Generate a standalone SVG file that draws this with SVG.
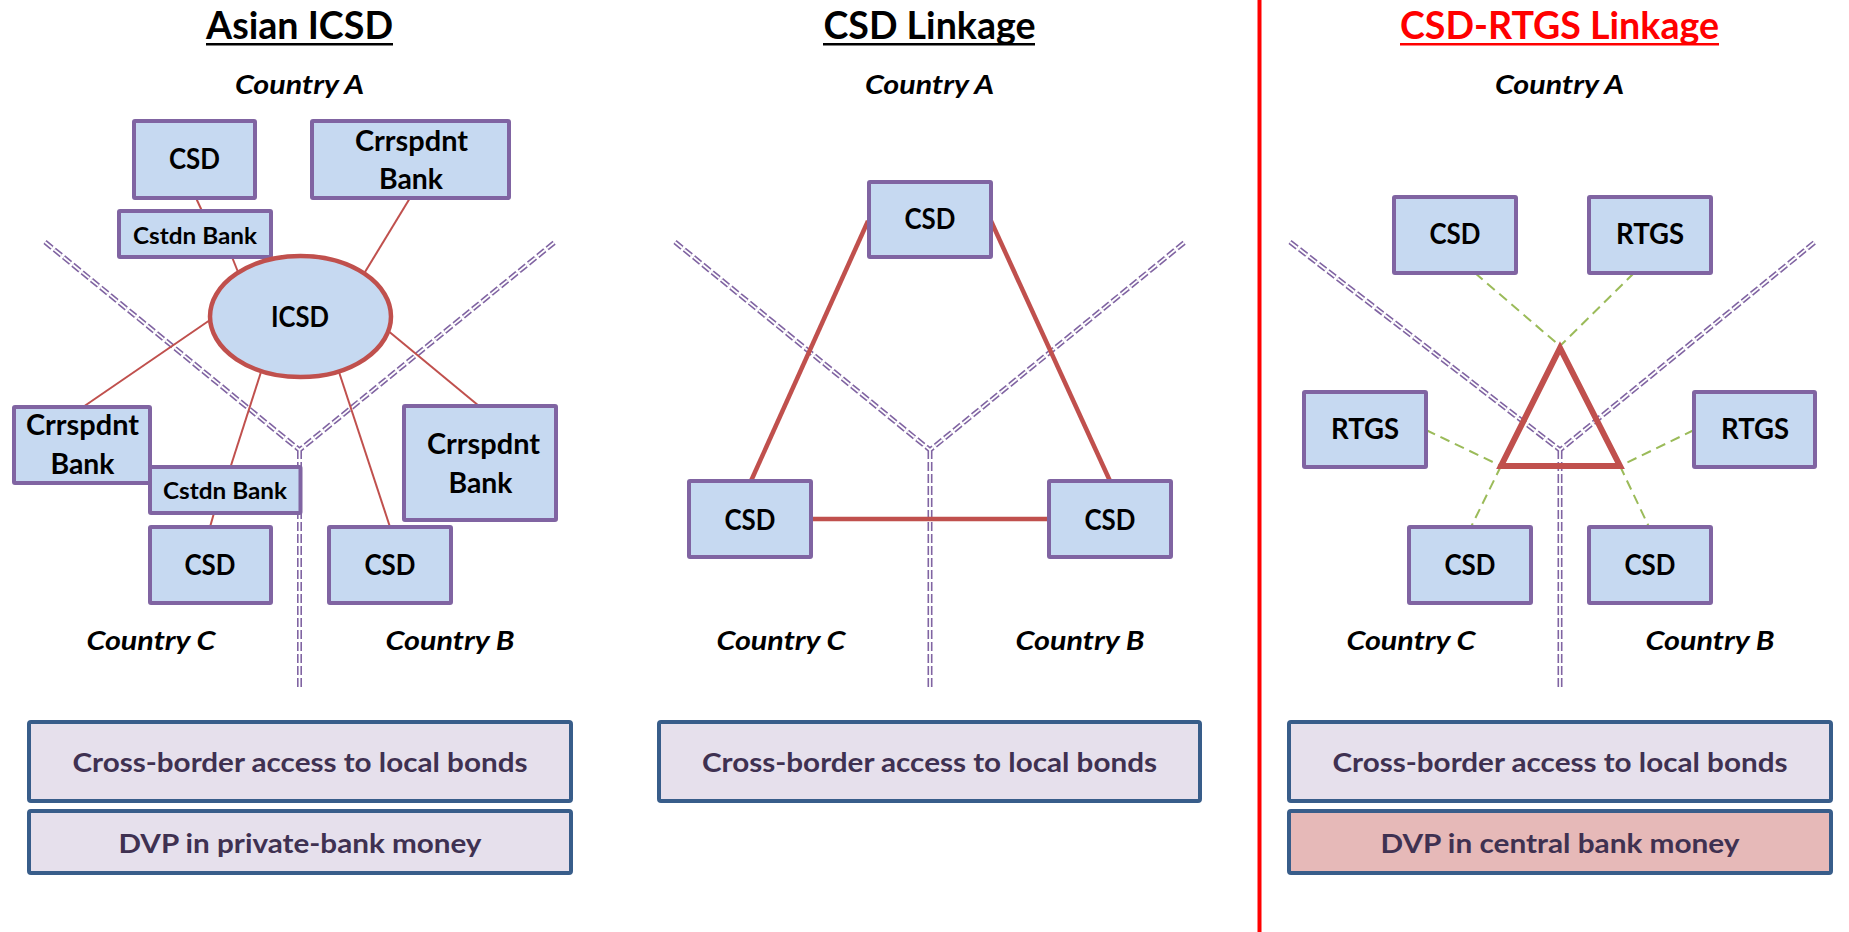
<svg xmlns="http://www.w3.org/2000/svg" width="1849" height="932" viewBox="0 0 1849 932">
<style>
text{font-family:Lato,"Liberation Sans",sans-serif;font-weight:bold;text-anchor:middle;fill:#000}
.ttl{font-size:38px}
.cty{font-size:27px;font-style:italic}
.nt{font-size:28px}
.sm{font-size:23.5px}
.bt{font-size:27px;fill:#3F3151}
.node{fill:#C6D9F1;stroke:#8064A2;stroke-width:4}
.bnd{fill:none;stroke:#8064A2;stroke-width:5;stroke-dasharray:9 3}
.bndin{fill:none;stroke:#fff;stroke-width:1.8;stroke-dasharray:9 3}
.thin{stroke:#C0504D;stroke-width:2;fill:none}
.thick{stroke:#C0504D;stroke-width:4.5;fill:none}
.grn{stroke:#9BBB59;stroke-width:2;stroke-dasharray:10 6;fill:none}
.box{fill:#E6E0EC;stroke:#385D8A;stroke-width:4}
.boxr{fill:#E6B9B8;stroke:#385D8A;stroke-width:4}
</style>
<rect width="1849" height="932" fill="#fff"/>
<line x1="1259.5" y1="0" x2="1259.5" y2="932" stroke="#FF0000" stroke-width="4"/>

<g id="titles">
<text class="ttl" x="299.5" y="39" textLength="187" lengthAdjust="spacingAndGlyphs">Asian ICSD</text>
<rect x="206" y="43" width="187" height="2.5" fill="#000"/>
<text class="ttl" x="929.5" y="39" textLength="212" lengthAdjust="spacingAndGlyphs">CSD Linkage</text>
<rect x="823" y="43" width="212" height="2.5" fill="#000"/>
<text class="ttl" x="1559.5" y="39" textLength="319" lengthAdjust="spacingAndGlyphs" style="fill:#FF0000">CSD-RTGS Linkage</text>
<rect x="1400" y="43" width="319" height="2.5" fill="#FF0000"/>
</g>

<g id="country-labels">
<text class="cty" x="299.5" y="94" textLength="129" lengthAdjust="spacingAndGlyphs">Country A</text>
<text class="cty" x="151" y="650" textLength="129" lengthAdjust="spacingAndGlyphs">Country C</text>
<text class="cty" x="450" y="650" textLength="129" lengthAdjust="spacingAndGlyphs">Country B</text>
<text class="cty" x="929.5" y="94" textLength="129" lengthAdjust="spacingAndGlyphs">Country A</text>
<text class="cty" x="781" y="650" textLength="129" lengthAdjust="spacingAndGlyphs">Country C</text>
<text class="cty" x="1080" y="650" textLength="129" lengthAdjust="spacingAndGlyphs">Country B</text>
<text class="cty" x="1559.5" y="94" textLength="129" lengthAdjust="spacingAndGlyphs">Country A</text>
<text class="cty" x="1411" y="650" textLength="129" lengthAdjust="spacingAndGlyphs">Country C</text>
<text class="cty" x="1710" y="650" textLength="129" lengthAdjust="spacingAndGlyphs">Country B</text>
</g>

<g id="boundaries">
<path class="bnd" d="M45,242 L299.5,450 L555,242 M299.5,450 L299.5,690"/>
<path class="bndin" d="M45,242 L299.5,450 L555,242 M299.5,450 L299.5,690"/>
<path class="bnd" d="M675,242 L930,450 L1185,242 M930,450 L930,690"/>
<path class="bndin" d="M675,242 L930,450 L1185,242 M930,450 L930,690"/>
<path class="bnd" d="M1290,242 L1560,450 L1815,242 M1560,450 L1560,690"/>
<path class="bndin" d="M1290,242 L1560,450 L1815,242 M1560,450 L1560,690"/>
</g>

<g id="connectors">
<line class="thin" x1="196" y1="198" x2="202" y2="211"/>
<line class="thin" x1="232" y1="257" x2="238" y2="272"/>
<line class="thin" x1="410" y1="198" x2="365" y2="272"/>
<line class="thin" x1="210" y1="320" x2="83" y2="407"/>
<line class="thin" x1="261" y1="372" x2="230.5" y2="467"/>
<line class="thin" x1="214" y1="513" x2="210" y2="527"/>
<line class="thin" x1="339" y1="372" x2="390" y2="527"/>
<line class="thin" x1="389.5" y1="332" x2="479" y2="406"/>
<line class="thick" x1="868" y1="221" x2="751" y2="481"/>
<line class="thick" x1="991" y1="221" x2="1110" y2="481"/>
<line class="thick" x1="811" y1="519" x2="1049" y2="519"/>
<line class="grn" x1="1475" y1="273" x2="1560" y2="346"/>
<line class="grn" x1="1634" y1="273" x2="1560" y2="346"/>
<line class="grn" x1="1426" y1="430" x2="1501" y2="466"/>
<line class="grn" x1="1501" y1="466" x2="1471" y2="527"/>
<line class="grn" x1="1694" y1="430" x2="1620" y2="466"/>
<line class="grn" x1="1620" y1="466" x2="1649" y2="527"/>
<polygon points="1560,348 1501,466 1620,466" fill="none" stroke="#C0504D" stroke-width="6" stroke-linejoin="miter"/>
</g>

<g id="p1-csd-a">
<rect class="node" x="134" y="121" width="121" height="77" rx="1"/>
<text class="nt" x="194.5" y="169" textLength="51" lengthAdjust="spacingAndGlyphs">CSD</text>
</g>
<g id="p1-crr-a">
<rect class="node" x="312" y="121" width="197" height="77" rx="1"/>
<text class="nt" x="411.5" y="151" textLength="113" lengthAdjust="spacingAndGlyphs">Crrspdnt</text>
<text class="nt" x="411" y="189" textLength="64" lengthAdjust="spacingAndGlyphs">Bank</text>
</g>
<g id="p1-cst-a">
<rect class="node" x="119" y="211" width="152" height="46" rx="1"/>
<text class="sm" x="195" y="244" textLength="124" lengthAdjust="spacingAndGlyphs">Cstdn Bank</text>
</g>
<g id="p1-icsd">
<ellipse cx="300.5" cy="316.5" rx="90.5" ry="60.5" fill="#C6D9F1" stroke="#C0504D" stroke-width="4.5"/>
<text class="nt" x="300" y="327" textLength="58" lengthAdjust="spacingAndGlyphs">ICSD</text>
</g>
<g id="p1-crr-c">
<rect class="node" x="14" y="407" width="136" height="76" rx="1"/>
<text class="nt" x="82.5" y="435" textLength="113" lengthAdjust="spacingAndGlyphs">Crrspdnt</text>
<text class="nt" x="82.5" y="474" textLength="64" lengthAdjust="spacingAndGlyphs">Bank</text>
</g>
<g id="p1-cst-c">
<rect class="node" x="150" y="467" width="150.5" height="46" rx="1"/>
<text class="sm" x="225" y="499" textLength="124" lengthAdjust="spacingAndGlyphs">Cstdn Bank</text>
</g>
<g id="p1-csd-c">
<rect class="node" x="150" y="527" width="121" height="76" rx="1"/>
<text class="nt" x="210" y="575" textLength="51" lengthAdjust="spacingAndGlyphs">CSD</text>
</g>
<g id="p1-csd-b">
<rect class="node" x="329" y="527" width="122" height="76" rx="1"/>
<text class="nt" x="390" y="575" textLength="51" lengthAdjust="spacingAndGlyphs">CSD</text>
</g>
<g id="p1-crr-b">
<rect class="node" x="404" y="406" width="152" height="114" rx="1"/>
<text class="nt" x="483.5" y="454" textLength="113" lengthAdjust="spacingAndGlyphs">Crrspdnt</text>
<text class="nt" x="480.5" y="493" textLength="64" lengthAdjust="spacingAndGlyphs">Bank</text>
</g>

<g id="p2-csd-a">
<rect class="node" x="869" y="182" width="122" height="75" rx="1"/>
<text class="nt" x="930" y="229" textLength="51" lengthAdjust="spacingAndGlyphs">CSD</text>
</g>
<g id="p2-csd-c">
<rect class="node" x="689" y="481" width="122" height="76" rx="1"/>
<text class="nt" x="750" y="530" textLength="51" lengthAdjust="spacingAndGlyphs">CSD</text>
</g>
<g id="p2-csd-b">
<rect class="node" x="1049" y="481" width="122" height="76" rx="1"/>
<text class="nt" x="1110" y="530" textLength="51" lengthAdjust="spacingAndGlyphs">CSD</text>
</g>

<g id="p3-csd-a">
<rect class="node" x="1394" y="197" width="122" height="76" rx="1"/>
<text class="nt" x="1455" y="244" textLength="51" lengthAdjust="spacingAndGlyphs">CSD</text>
</g>
<g id="p3-rtgs-a">
<rect class="node" x="1589" y="197" width="122" height="76" rx="1"/>
<text class="nt" x="1650" y="244" textLength="68" lengthAdjust="spacingAndGlyphs">RTGS</text>
</g>
<g id="p3-rtgs-c">
<rect class="node" x="1304" y="392" width="122" height="75" rx="1"/>
<text class="nt" x="1365" y="439" textLength="68" lengthAdjust="spacingAndGlyphs">RTGS</text>
</g>
<g id="p3-rtgs-b">
<rect class="node" x="1694" y="392" width="121" height="75" rx="1"/>
<text class="nt" x="1755" y="439" textLength="68" lengthAdjust="spacingAndGlyphs">RTGS</text>
</g>
<g id="p3-csd-c">
<rect class="node" x="1409" y="527" width="122" height="76" rx="1"/>
<text class="nt" x="1470" y="575" textLength="51" lengthAdjust="spacingAndGlyphs">CSD</text>
</g>
<g id="p3-csd-b">
<rect class="node" x="1589" y="527" width="122" height="76" rx="1"/>
<text class="nt" x="1650" y="575" textLength="51" lengthAdjust="spacingAndGlyphs">CSD</text>
</g>

<g id="p1-access">
<rect class="box" x="29" y="722" width="542" height="79" rx="2"/>
<text class="bt" x="300" y="772" textLength="455" lengthAdjust="spacingAndGlyphs">Cross-border access to local bonds</text>
</g>
<g id="p1-dvp">
<rect class="box" x="29" y="811" width="542" height="62" rx="2"/>
<text class="bt" x="300" y="853" textLength="363" lengthAdjust="spacingAndGlyphs">DVP in private-bank money</text>
</g>
<g id="p2-access">
<rect class="box" x="659" y="722" width="541" height="79" rx="2"/>
<text class="bt" x="929.5" y="772" textLength="455" lengthAdjust="spacingAndGlyphs">Cross-border access to local bonds</text>
</g>
<g id="p3-access">
<rect class="box" x="1289" y="722" width="542" height="79" rx="2"/>
<text class="bt" x="1560" y="772" textLength="455" lengthAdjust="spacingAndGlyphs">Cross-border access to local bonds</text>
</g>
<g id="p3-dvp">
<rect class="boxr" x="1289" y="811" width="542" height="62" rx="2"/>
<text class="bt" x="1560" y="853" textLength="359" lengthAdjust="spacingAndGlyphs">DVP in central bank money</text>
</g>
</svg>
